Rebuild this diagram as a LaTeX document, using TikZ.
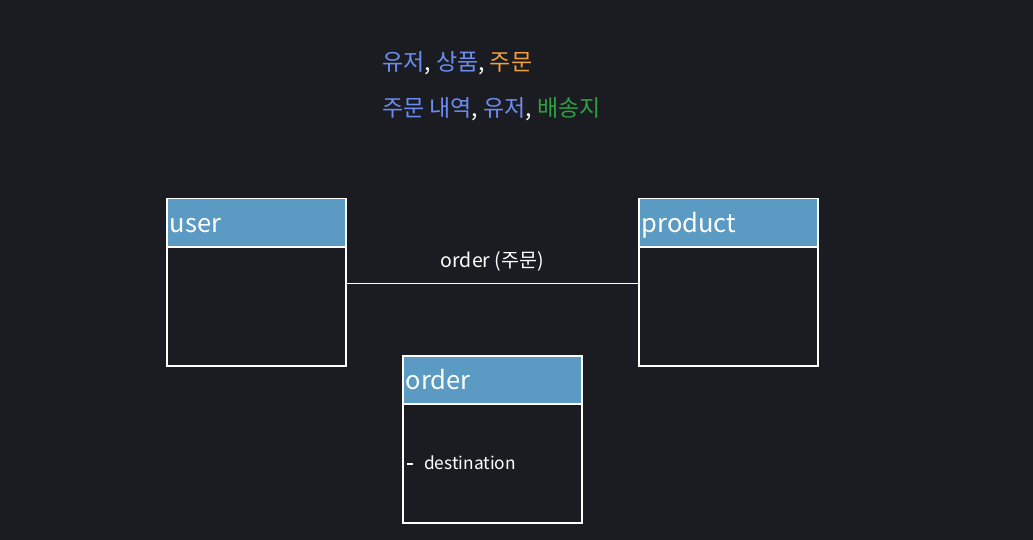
\documentclass[tikz,border=0pt]{standalone}
\usepackage{fontspec}
\setmainfont{Noto Sans CJK KR}
\usetikzlibrary{positioning}
\definecolor{bg}{HTML}{1B1C21}
\definecolor{hdr}{HTML}{5B9AC2}
\definecolor{kblue}{HTML}{6C8CF2}
\definecolor{korange}{HTML}{F0A040}
\definecolor{kgreen}{HTML}{2EA043}
\tikzset{
  hbox/.style={draw=white, line width=1.5pt, fill=hdr, text=white, minimum width=179pt, minimum height=48pt, inner xsep=3pt, inner ysep=0pt, align=left, text width=173pt, font=\fontsize{25.5}{28}\selectfont, anchor=north west, text height=22pt, text depth=2pt},
  bbox/.style={draw=white, line width=1.5pt, fill=bg, minimum width=179pt, anchor=north west, inner sep=0pt},
  ttl/.style={anchor=west, inner sep=0pt, font=\fontsize{23}{26}\selectfont},
  lbl/.style={text=white, inner sep=0pt, font=\fontsize{19.5}{22}\selectfont},
  conn/.style={draw=white, line width=1.5pt}
}
\begin{document}
\begin{tikzpicture}[x=1pt,y=-1pt]
\fill[bg] (0,0) rectangle (1033,540);
\useasboundingbox (0,0) rectangle (1033,540);
\node[ttl] (t1) at (382,63) {\textcolor{kblue}{유저}\textcolor{white}{,} \textcolor{kblue}{상품}\textcolor{white}{,} \textcolor{korange}{주문}};
\node[ttl] (t2) at (382,109) {\textcolor{kblue}{주문 내역}\textcolor{white}{,} \textcolor{kblue}{유저}\textcolor{white}{,} \textcolor{kgreen}{배송지}};
% user
\node[bbox, minimum height=167pt] (ub) at (166,198) {};
\node[hbox] (uh) at (166,198) {user};
% product
\node[bbox, minimum height=167pt] (pb) at (638,198) {};
\node[hbox] (ph) at (638,198) {product};
% order
\node[bbox, minimum height=167pt] (ob) at (402,355) {};
\node[hbox] (oh) at (402,355) {order};
\node[lbl, anchor=west, font=\fontsize{17.3}{20}\selectfont] (od) at (407,463) {\rule[0.28em]{6pt}{1.5pt}\hspace{11pt}destination};
% connector
\draw[conn] ([yshift=-1pt]ub.east) -- node[lbl, above=11pt] (cl) {order (주문)} ([yshift=-1pt]pb.west);
\end{tikzpicture}
\end{document}
